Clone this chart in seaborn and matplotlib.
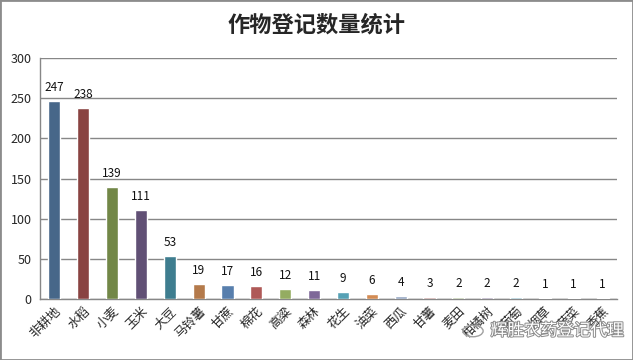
import matplotlib
matplotlib.use("Agg")
import matplotlib.pyplot as plt
import matplotlib.patheffects as pe
import pandas as pd
import seaborn as sns

# crop registration counts
crops = ["非耕地", "水稻", "小麦", "玉米", "大豆", "马铃薯", "甘蔗", "棉花", "高粱", "森林",
         "花生", "油菜", "西瓜", "甘薯", "麦田", "柑橘树", "葡萄", "烟草", "蔬菜", "香蕉"]
counts = [247, 238, 139, 111, 53, 19, 17, 16, 12, 11, 9, 6, 4, 3, 2, 2, 2, 1, 1, 1]
bar_colors = ["#3C6694", "#953735", "#76923C", "#604A7B", "#31859C",
              "#C5783A", "#4A7EBB", "#BE4B48", "#98B954", "#7D60A0",
              "#46AAC5", "#E8883E", "#8EA5CB", "#C79594", "#B7C89D",
              "#A89BBA", "#93C6D6", "#F5C29A", "#B9C9E3", "#E4B9B9"]
yticks = [0, 50, 100, 150, 200, 250, 300]

sns.set_style("white")
plt.rcParams["font.family"] = ["Noto Sans CJK SC", "DejaVu Sans"]

df = pd.DataFrame({"crop": crops, "count": counts})

fig = plt.figure(figsize=(6.33, 3.6), dpi=100)
ax = fig.add_axes([40 / 633, 1 - 299 / 360, 577 / 633, 241 / 360])

sns.barplot(data=df, x="crop", y="count", hue="crop", palette=bar_colors,
            legend=False, width=0.42, ax=ax, zorder=3)

ax.set_ylim(0, 300)
ax.set_xlim(-0.5, len(crops) - 0.5)
ax.set_yticks(yticks)
ax.yaxis.grid(True, color="#878787", linewidth=1, zorder=0)
ax.set_axisbelow(True)
ax.set_xlabel("")
ax.set_ylabel("")

for s in ["top", "right"]:
    ax.spines[s].set_visible(False)
for s in ["left", "bottom"]:
    ax.spines[s].set_color("#878787")
    ax.spines[s].set_linewidth(1)

ax.tick_params(axis="y", length=4, color="#878787", labelsize=9, pad=2)
ax.set_xticks(range(len(crops)))
ax.set_xticklabels(crops, rotation=45, ha="right", rotation_mode="anchor", fontsize=9)
ax.tick_params(axis="x", which="major", length=0, pad=4)
ax.set_xticks([i - 0.5 for i in range(len(crops) + 1)], minor=True)
ax.tick_params(axis="x", which="minor", length=5, color="#878787")

for i, v in enumerate(counts):
    ax.annotate(str(v), (i, v), xytext=(0, 5), textcoords="offset points",
                ha="center", va="bottom", fontsize=8.5, color="#111111")

fig.text(0.5, 1 - 25 / 360, "作物登记数量统计", ha="center", va="center",
         fontsize=16, fontweight="bold")

# watermark
fig.text(0.985, 1 - 331 / 360, "辉胜农药登记代理", ha="right", va="center",
         fontsize=12, color="white",
         path_effects=[pe.withStroke(linewidth=1.4, foreground="#8A8A8A")])
fig.patches.append(plt.Circle((473 / 633, 1 - 331 / 360), 0.016, transform=fig.transFigure,
                              fill=False, edgecolor="#A0A0A0", linewidth=1))

# outer frame
fig.patches.append(plt.Rectangle((0, 0), 1, 1, transform=fig.transFigure, fill=False,
                                 edgecolor="#8C8C8C", linewidth=2))

fig.savefig("out.png", dpi=100)
